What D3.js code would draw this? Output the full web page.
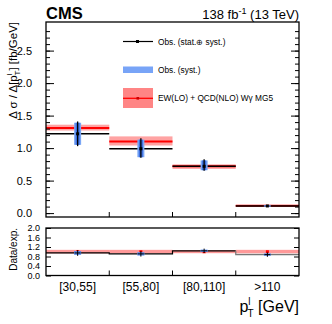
<!DOCTYPE html>
<html>
<head>
<meta charset="utf-8">
<script src="https://cdn.jsdelivr.net/npm/d3@7"></script>
<style>
  body { margin: 0; background: #fff; }
  svg { font-family: "Liberation Sans", Arial, sans-serif; display: block; }
  .axis path { display: none; }
  .axis line { stroke: #000; }
  .axis .minor line { stroke: #666; }
</style>
</head>
<body>
<div id="chart"></div>
<script>
// bins and values
const bins = ["[30,55]", "[55,80]", "[80,110]", ">110"];

const obsValue = [1.22, 0.99, 0.72, 0.11];
const obsTotalUp = [1.41, 1.15, 0.83, 0.125];
const obsTotalDown = [1.03, 0.85, 0.65, 0.095];
const obsSystUp = [1.39, 1.13, 0.81, 0.12];
const obsSystDown = [1.05, 0.86, 0.66, 0.10];

const predValue = [1.31, 1.10, 0.72, 0.115];
const predUp = [1.36, 1.18, 0.75, 0.125];
const predDown = [1.27, 1.04, 0.68, 0.105];

const ratioValue = [0.95, 0.91, 1.04, 0.88];
const ratioErrUp = [1.03, 0.98, 1.09, 0.93];
const ratioErrDown = [0.87, 0.84, 0.99, 0.83];
const ratioBandUp = [1.08, 1.08, 1.07, 1.08];
const ratioBandDown = [0.93, 0.93, 0.94, 0.93];

const mainTicks = [0.0, 0.5, 1.0, 1.5, 2.0, 2.5];
const ratioTicks = [0.0, 0.4, 0.8, 1.2, 1.6, 2.0];

const width = 332, height = 324;
const left = 46, right = 299;

const svg = d3.select("#chart").append("svg")
  .attr("width", width)
  .attr("height", height);

const x = d3.scaleBand().domain(bins).range([left, right]).paddingInner(0).paddingOuter(0);
const cx = b => x(b) + x.bandwidth() / 2;

const y = d3.scaleLinear().domain([-0.06, 2.94]).range([217, 22]);
const yr = d3.scaleLinear().domain([0, 2]).range([275.5, 228]);

const data = bins.map((b, i) => ({
  bin: b,
  obs: obsValue[i], totUp: obsTotalUp[i], totDn: obsTotalDown[i],
  sysUp: obsSystUp[i], sysDn: obsSystDown[i],
  pred: predValue[i], pUp: predUp[i], pDn: predDown[i],
  r: ratioValue[i], rUp: ratioErrUp[i], rDn: ratioErrDown[i],
  bUp: ratioBandUp[i], bDn: ratioBandDown[i],
}));

// ---------- main panel ----------
const main = svg.append("g");

// prediction band + line
main.selectAll(".pband").data(data).enter().append("rect")
  .attr("x", d => x(d.bin))
  .attr("width", x.bandwidth())
  .attr("y", d => y(d.pUp))
  .attr("height", d => y(d.pDn) - y(d.pUp))
  .attr("fill", "#ff3333").attr("fill-opacity", 0.45);

main.selectAll(".pline").data(data).enter().append("line")
  .attr("x1", d => x(d.bin)).attr("x2", d => x(d.bin) + x.bandwidth())
  .attr("y1", d => y(d.pred)).attr("y2", d => y(d.pred))
  .attr("stroke", "#ff0000").attr("stroke-width", 2);

// observed step segments
main.selectAll(".oline").data(data).enter().append("line")
  .attr("x1", d => x(d.bin)).attr("x2", d => x(d.bin) + x.bandwidth())
  .attr("y1", d => y(d.obs)).attr("y2", d => y(d.obs))
  .attr("stroke", "#000").attr("stroke-width", 1.5);

// syst boxes
main.selectAll(".sys").data(data).enter().append("rect")
  .attr("x", d => cx(d.bin) - 3.5).attr("width", 7)
  .attr("y", d => y(d.sysUp)).attr("height", d => y(d.sysDn) - y(d.sysUp))
  .attr("fill", "#7aa6f5");
main.selectAll(".sys2").data(data).enter().append("rect")
  .attr("x", d => cx(d.bin) - 2).attr("width", 4)
  .attr("y", d => y(d.sysUp)).attr("height", d => y(d.sysDn) - y(d.sysUp))
  .attr("fill", "#3d6fe0");

// total error bars
main.selectAll(".err").data(data).enter().append("line")
  .attr("x1", d => cx(d.bin)).attr("x2", d => cx(d.bin))
  .attr("y1", d => y(d.totUp)).attr("y2", d => y(d.totDn))
  .attr("stroke", "#000").attr("stroke-width", 1.3);
main.selectAll(".pt").data(data).enter().append("rect")
  .attr("x", d => cx(d.bin) - 1.5).attr("y", d => y(d.obs) - 1.5)
  .attr("width", 3).attr("height", 3).attr("fill", "#000");

// axes main
main.append("g").attr("class", "axis minor").attr("transform", `translate(${left},0)`)
  .call(d3.axisLeft(y).tickValues(d3.range(0, 29).map(i => i / 10)).tickSize(-4).tickFormat(""));
main.append("g").attr("class", "axis").attr("transform", `translate(${left},0)`)
  .call(d3.axisLeft(y).tickValues(mainTicks).tickSize(-8).tickPadding(14).tickFormat(d3.format(".1f")))
  .selectAll("text").attr("font-size", 11).attr("fill", "#000");
main.append("g").attr("class", "axis minor").attr("transform", `translate(${right},0)`)
  .call(d3.axisRight(y).tickValues(d3.range(0, 29).map(i => i / 10)).tickSize(-4).tickFormat(""));
main.append("g").attr("class", "axis").attr("transform", `translate(${right},0)`)
  .call(d3.axisRight(y).tickValues(mainTicks).tickSize(-8).tickFormat(""));
main.append("g").attr("class", "axis").attr("transform", "translate(0,217)")
  .call(d3.axisBottom(x).tickValues(bins.slice(1)).tickSize(-5).tickFormat("").offset(0))
  .selectAll(".tick").attr("transform", d => `translate(${x(d)},0)`);

main.append("rect").attr("x", left).attr("y", 22).attr("width", right - left).attr("height", 195)
  .attr("fill", "none").attr("stroke", "#000").attr("stroke-width", 1.3);

// y label
const yl = svg.append("text")
  .attr("transform", "translate(17,22) rotate(-90)")
  .attr("text-anchor", "end").attr("font-size", 11.5);
yl.append("tspan").text("Δ σ / Δ[p");
yl.append("tspan").attr("font-size", 8).attr("dy", -5).text("l");
yl.append("tspan").attr("font-size", 8).attr("dx", -2).attr("dy", 8).text("T");
yl.append("tspan").attr("dy", -3).text("] [fb/GeV]");

// title
svg.append("text").attr("x", 46).attr("y", 19).attr("font-size", 16.5).attr("font-weight", "bold").text("CMS");
const lumi = svg.append("text").attr("x", 299).attr("y", 19).attr("font-size", 13).attr("text-anchor", "end");
lumi.append("tspan").text("138 fb");
lumi.append("tspan").attr("font-size", 9).attr("dy", -5).text("-1");
lumi.append("tspan").attr("dy", 5).text(" (13 TeV)");

// legend
const lg = svg.append("g").attr("font-size", 8.3);
lg.append("line").attr("x1", 123).attr("x2", 153).attr("y1", 41.5).attr("y2", 41.5).attr("stroke", "#000").attr("stroke-width", 1.2);
lg.append("rect").attr("x", 136).attr("y", 40).attr("width", 3).attr("height", 3).attr("fill", "#000");
lg.append("text").attr("x", 158).attr("y", 44.5).text("Obs. (stat.⊕ syst.)");
lg.append("rect").attr("x", 123).attr("y", 66.5).attr("width", 30).attr("height", 6.5).attr("fill", "#78a4f7");
lg.append("text").attr("x", 158).attr("y", 73).text("Obs. (syst.)");
lg.append("rect").attr("x", 123).attr("y", 88).attr("width", 30).attr("height", 20).attr("fill", "#ff3333").attr("fill-opacity", 0.6);
lg.append("line").attr("x1", 123).attr("x2", 153).attr("y1", 98.3).attr("y2", 98.3).attr("stroke", "#ff0000").attr("stroke-width", 1.3);
lg.append("rect").attr("x", 136.5).attr("y", 97).attr("width", 2.6).attr("height", 2.6).attr("fill", "#cc0000");
lg.append("text").attr("x", 158).attr("y", 101).text("EW(LO) + QCD(NLO) Wγ MG5");

// ---------- ratio panel ----------
const rp = svg.append("g");

rp.selectAll(".rband").data(data).enter().append("rect")
  .attr("x", d => x(d.bin)).attr("width", x.bandwidth())
  .attr("y", d => yr(d.bUp)).attr("height", d => yr(d.bDn) - yr(d.bUp))
  .attr("fill", "#ff3333").attr("fill-opacity", 0.5);

// last bin drawn grey with light fill
const last = data[data.length - 1];
rp.append("rect").attr("x", x(last.bin)).attr("width", x.bandwidth())
  .attr("y", yr(last.bDn)).attr("height", yr(last.r) - yr(last.bDn))
  .attr("fill", "#cccccc").attr("fill-opacity", 0.6);

const step = [];
data.forEach(d => { step.push([x(d.bin), yr(d.r)]); step.push([x(d.bin) + x.bandwidth(), yr(d.r)]); });
rp.append("path").attr("d", d3.line()(step.slice(0, 6)))
  .attr("fill", "none").attr("stroke", "#000").attr("stroke-width", 1.2);
rp.append("path").attr("d", d3.line()(step.slice(5)))
  .attr("fill", "none").attr("stroke", "#777").attr("stroke-width", 1.2);

rp.selectAll(".rpred").data(data).enter().append("rect")
  .attr("x", d => cx(d.bin) - 1.5).attr("y", yr(1) - 1.5).attr("width", 3).attr("height", 3)
  .attr("fill", "#ff0000");

rp.selectAll(".rsys").data(data).enter().append("rect")
  .attr("x", d => cx(d.bin) - 3.5).attr("width", 7)
  .attr("y", d => yr(d.rUp)).attr("height", d => yr(d.rDn) - yr(d.rUp))
  .attr("fill", "#5c8ff0");
rp.selectAll(".rerr").data(data).enter().append("line")
  .attr("x1", d => cx(d.bin)).attr("x2", d => cx(d.bin))
  .attr("y1", d => yr(d.rUp) - 1).attr("y2", d => yr(d.rDn) + 1)
  .attr("stroke", "#000").attr("stroke-width", 1);
rp.selectAll(".rh").data(data).enter().append("line")
  .attr("x1", d => cx(d.bin) - 3).attr("x2", d => cx(d.bin) + 3)
  .attr("y1", d => yr(d.r)).attr("y2", d => yr(d.r))
  .attr("stroke", "#000").attr("stroke-width", 1);

rp.append("g").attr("class", "axis").attr("transform", `translate(${left},0)`)
  .call(d3.axisLeft(yr).tickValues(ratioTicks).tickSize(-5).tickPadding(6).tickFormat(d3.format(".1f")))
  .selectAll("text").attr("font-size", 9).attr("fill", "#000");
rp.append("g").attr("class", "axis").attr("transform", `translate(${right},0)`)
  .call(d3.axisRight(yr).tickValues(ratioTicks).tickSize(-5).tickFormat(""));
rp.append("g").attr("class", "axis").attr("transform", "translate(0,275.5)")
  .call(d3.axisBottom(x).tickValues(bins.slice(1)).tickSize(-5).tickFormat("").offset(0))
  .selectAll(".tick").attr("transform", d => `translate(${x(d)},0)`);

rp.append("rect").attr("x", left).attr("y", 228).attr("width", right - left).attr("height", 47.5)
  .attr("fill", "none").attr("stroke", "#000").attr("stroke-width", 1.3);

// x category labels
svg.selectAll(".xl").data(bins).enter().append("text")
  .attr("x", d => cx(d)).attr("y", 291)
  .attr("text-anchor", "middle").attr("font-size", 12).text(d => d);

svg.append("text").attr("transform", "translate(17,228) rotate(-90)")
  .attr("text-anchor", "end").attr("font-size", 10).text("Data/exp.");

const xt = svg.append("text").attr("x", 299).attr("y", 312).attr("text-anchor", "end").attr("font-size", 16);
xt.append("tspan").text("p");
xt.append("tspan").attr("font-size", 10).attr("dy", -7).text("l");
xt.append("tspan").attr("font-size", 10).attr("dx", -3).attr("dy", 12).text("T");
xt.append("tspan").attr("dy", -5).text(" [GeV]");
</script>
</body>
</html>
